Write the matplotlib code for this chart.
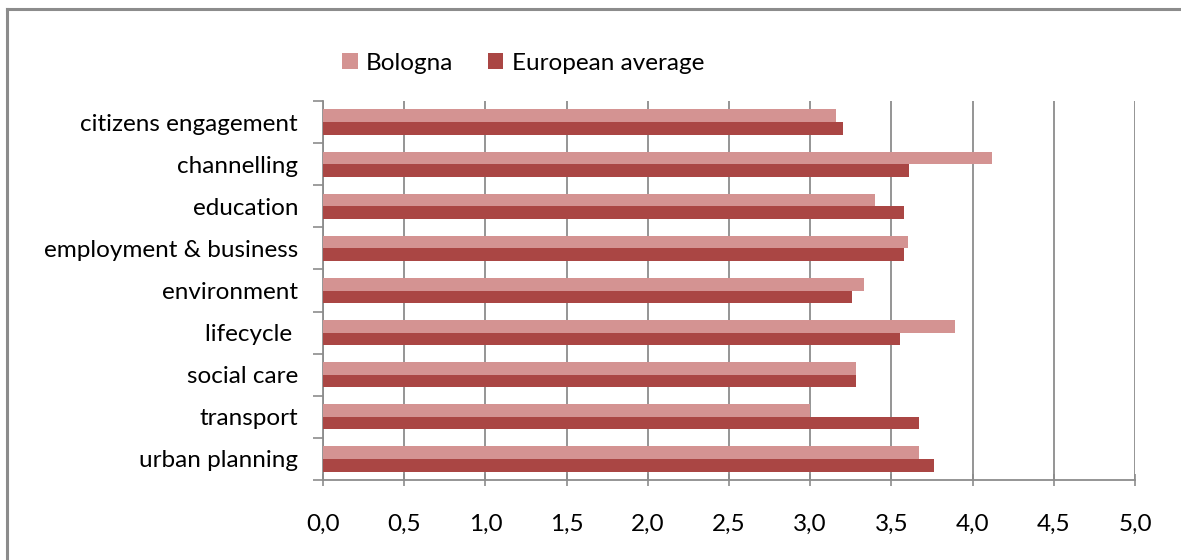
import matplotlib
matplotlib.use("Agg")
from matplotlib import pyplot as plt
from matplotlib.lines import Line2D
import numpy as np

categories = ['citizens engagement', 'channelling', 'education', 'employment & business',
              'environment', 'lifecycle ', 'social care', 'transport', 'urban planning']
bologna = [3.16, 4.12, 3.40, 3.60, 3.33, 3.89, 3.28, 3.00, 3.67]
european = [3.20, 3.61, 3.58, 3.58, 3.26, 3.55, 3.28, 3.67, 3.76]
x_ticks = np.arange(0, 5.01, 0.5)
x_labels = [f'{v:.1f}'.replace('.', ',') for v in x_ticks]

plt.rcParams['font.family'] = ['Lato', 'DejaVu Sans']

fig = plt.figure(figsize=(11.81, 5.6), dpi=100)
# outer chart frame (only top and left edges are visible)
bx, by = 7 / 1181, 1 - 9 / 560
fig.add_artist(Line2D([bx, 1.0], [by, by], transform=fig.transFigure, color='#8c8c8c', linewidth=2.2))
fig.add_artist(Line2D([bx, bx], [0, by], transform=fig.transFigure, color='#8c8c8c', linewidth=2.2))

ax = fig.add_axes([323 / 1181, 1 - 480 / 560, (1135 - 323) / 1181, (480 - 101) / 560])

pos = np.arange(len(categories))
h = 0.30
ax.barh(pos - h / 2, bologna, height=h, color='#D49392', label='Bologna', zorder=3)
ax.barh(pos + h / 2, european, height=h, color='#AA4644', label='European average', zorder=3)

ax.set_ylim(len(categories) - 0.5, -0.5)
ax.set_xlim(0, 5)
ax.set_yticks(pos)
ax.set_yticklabels(categories, fontsize=17.5)
ax.set_yticks(np.arange(-0.5, len(categories), 1), minor=True)
ax.tick_params(axis='y', which='major', length=0, pad=18)
ax.tick_params(axis='y', which='minor', length=7, color='#8c8c8c', width=1.2)
ax.set_xticks(x_ticks)
ax.set_xticklabels(x_labels, fontsize=17.5)
ax.tick_params(axis='x', length=9, color='#8c8c8c', width=1.2, pad=20, direction='inout')
ax.grid(axis='x', color='#8c8c8c', linewidth=1.3, zorder=0)
for s in ['top', 'right']:
    ax.spines[s].set_visible(False)
for s in ['left', 'bottom']:
    ax.spines[s].set_color('#8c8c8c')
    ax.spines[s].set_linewidth(1.3)

fig.legend(loc='center left', bbox_to_anchor=(320 / 1181, 1 - 63 / 560), ncol=2, frameon=False,
           fontsize=17.5, handlelength=0.65, handleheight=0.65, handletextpad=0.35, columnspacing=1.4)

fig.savefig('out.png', dpi=100)
